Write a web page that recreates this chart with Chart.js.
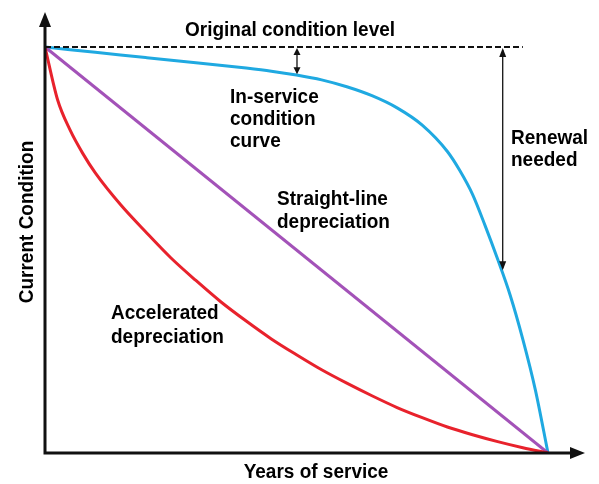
<!DOCTYPE html>
<html>
<head>
<meta charset="utf-8">
<script src="https://cdn.jsdelivr.net/npm/chart.js@4"></script>
<style>
  html, body { margin: 0; padding: 0; background: #fff; }
  #wrap { width: 599px; height: 484px; }
</style>
</head>
<body>
<div id="wrap"><canvas id="chart" width="599" height="484"></canvas></div>
<script>
// years of service (0..10) vs condition (0..10)
const blueX = [0, 1, 2, 3, 4, 4.5, 5, 5.5, 6, 6.5, 7, 7.5, 8, 8.25, 8.5, 8.75, 9, 9.25, 9.5, 9.75, 10];
const blueY = [10, 9.87, 9.74, 9.61, 9.48, 9.405, 9.31, 9.19, 9.02, 8.8, 8.5, 8.075, 7.425, 6.95, 6.37, 5.6, 4.77, 3.88, 2.8, 1.55, 0];

const purpleX = [0, 10];
const purpleY = [10, 0];

const redX = [0, 0.25, 0.5, 0.75, 1, 1.5, 2, 2.5, 3, 3.5, 4, 4.5, 5, 5.5, 6, 6.5, 7, 7.5, 8, 8.5, 9, 9.5, 10];
const redY = [10, 8.7, 7.95, 7.38, 6.9, 6.12, 5.45, 4.81, 4.25, 3.72, 3.25, 2.81, 2.42, 2.05, 1.72, 1.41, 1.12, 0.87, 0.64, 0.45, 0.28, 0.13, 0];

const originalLevel = 10;
const xMax = 10.736;
const yMax = 10.862;

const FONT = "bold 19px 'Liberation Sans', Arial, sans-serif";

function pts(xs, ys) {
    return xs.map((x, i) => ({ x: x, y: ys[i] }));
}

function arrowHead(ctx, x, y, dir, len, half) {
    ctx.beginPath();
    if (dir == "up") {
        ctx.moveTo(x, y);
        ctx.lineTo(x - half, y + len);
        ctx.lineTo(x + half, y + len);
    } else if (dir == "down") {
        ctx.moveTo(x, y);
        ctx.lineTo(x - half, y - len);
        ctx.lineTo(x + half, y - len);
    } else {
        ctx.moveTo(x, y);
        ctx.lineTo(x - len, y - half);
        ctx.lineTo(x - len, y + half);
    }
    ctx.closePath();
    ctx.fill();
}

function doubleArrow(ctx, x, y1, y2, len, half) {
    ctx.beginPath();
    ctx.moveTo(x, y1 + 2);
    ctx.lineTo(x, y2 - 2);
    ctx.stroke();
    arrowHead(ctx, x, y1, "up", len, half);
    arrowHead(ctx, x, y2, "down", len, half);
}

// text slightly taller than wide, like the original
function label(ctx, text, x, y) {
    ctx.save();
    ctx.translate(x, y);
    ctx.scale(1, 1.08);
    ctx.fillText(text, 0, 0);
    ctx.restore();
}

const decorations = {
    id: "decorations",
    afterDatasetsDraw(chart) {
        const ctx = chart.ctx;
        const xs = chart.scales.x;
        const ys = chart.scales.y;
        const x0 = xs.getPixelForValue(0);
        const y0 = ys.getPixelForValue(0);
        const yTop = ys.getPixelForValue(originalLevel);

        ctx.save();
        ctx.strokeStyle = "#111";
        ctx.fillStyle = "#111";

        // dashed original level
        ctx.lineWidth = 2;
        ctx.setLineDash([6, 3]);
        ctx.beginPath();
        ctx.moveTo(x0, yTop);
        ctx.lineTo(xs.getPixelForValue(9.5), yTop);
        ctx.stroke();
        ctx.setLineDash([]);

        // small gap arrow and renewal arrow
        ctx.lineWidth = 1.3;
        doubleArrow(ctx, xs.getPixelForValue(5.01), yTop + 1, ys.getPixelForValue(9.33), 7, 3.5);
        doubleArrow(ctx, xs.getPixelForValue(9.1), yTop + 1, ys.getPixelForValue(4.5), 9, 3.5);

        // axes with arrowheads
        ctx.lineWidth = 3;
        ctx.beginPath();
        ctx.moveTo(x0, y0 + 1.5);
        ctx.lineTo(x0, chart.chartArea.top + 10);
        ctx.moveTo(x0 - 1.5, y0);
        ctx.lineTo(chart.chartArea.right - 10, y0);
        ctx.stroke();
        arrowHead(ctx, x0, chart.chartArea.top, "up", 15, 6);
        arrowHead(ctx, chart.chartArea.right, y0, "right", 15, 6);

        // labels
        ctx.font = FONT;
        ctx.fillStyle = "#000";
        ctx.textBaseline = "alphabetic";
        ctx.textAlign = "center";
        label(ctx, "Original condition level", 290, 36);
        label(ctx, "Years of service", 316, 478);

        ctx.textAlign = "left";
        label(ctx, "In-service", 230, 103);
        label(ctx, "condition", 230, 125);
        label(ctx, "curve", 230, 147);
        label(ctx, "Renewal", 511, 144);
        label(ctx, "needed", 511, 166);
        label(ctx, "Straight-line", 277, 205);
        label(ctx, "depreciation", 277, 228);
        label(ctx, "Accelerated", 111, 319);
        label(ctx, "depreciation", 111, 343);

        ctx.translate(33, 222);
        ctx.rotate(-Math.PI / 2);
        ctx.textAlign = "center";
        label(ctx, "Current Condition", 0, 0);
        ctx.restore();
    },
};

const chart = new Chart(document.getElementById("chart"), {
    type: "line",
    data: {
        datasets: [
            {
                label: "Accelerated depreciation",
                data: pts(redX, redY),
                borderColor: "#e8222c",
                borderWidth: 3,
                cubicInterpolationMode: "monotone",
            },
            {
                label: "Straight-line depreciation",
                data: pts(purpleX, purpleY),
                borderColor: "#a352b8",
                borderWidth: 3,
            },
            {
                label: "In-service condition curve",
                data: pts(blueX, blueY),
                borderColor: "#1fa9e1",
                borderWidth: 3,
                cubicInterpolationMode: "monotone",
            },
        ],
    },
    options: {
        responsive: false,
        animation: false,
        events: [],
        layout: { padding: { left: 45, right: 14, top: 12, bottom: 31 } },
        elements: { point: { radius: 0 } },
        plugins: {
            legend: { display: false },
            tooltip: { enabled: false },
        },
        scales: {
            x: { type: "linear", min: 0, max: xMax, display: false },
            y: { type: "linear", min: 0, max: yMax, display: false },
        },
    },
    plugins: [decorations],
});
</script>
</body>
</html>
